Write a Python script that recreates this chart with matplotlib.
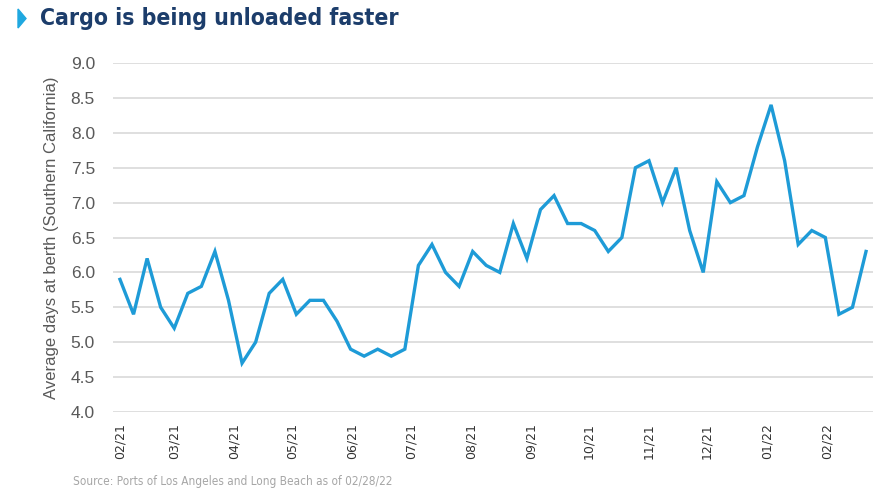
import matplotlib
matplotlib.use("Agg")
import matplotlib.pyplot as plt
import matplotlib.dates as mdates
from matplotlib.patches import Polygon
import pandas as pd

# weekly average days at berth, Southern California ports
start_date = "2021-02-01"
days_at_berth = [5.9, 5.4, 6.2, 5.5, 5.2, 5.7, 5.8, 6.3, 5.6, 4.7,
                 5.0, 5.7, 5.9, 5.4, 5.6, 5.6, 5.3, 4.9, 4.8, 4.9,
                 4.8, 4.9, 6.1, 6.4, 6.0, 5.8, 6.3, 6.1, 6.0, 6.7,
                 6.2, 6.9, 7.1, 6.7, 6.7, 6.6, 6.3, 6.5, 7.5, 7.6,
                 7.0, 7.5, 6.6, 6.0, 7.3, 7.0, 7.1, 7.8, 8.4, 7.6,
                 6.4, 6.6, 6.5, 5.4, 5.5, 6.3]
y_ticks = [4.0, 4.5, 5.0, 5.5, 6.0, 6.5, 7.0, 7.5, 8.0, 8.5, 9.0]

title = "Cargo is being unloaded faster"
y_label = "Average days at berth (Southern California)"
source = "Source: Ports of Los Angeles and Long Beach as of 02/28/22"

dates = pd.date_range(start_date, periods=len(days_at_berth), freq="7D")

W, H = 896, 501
fig = plt.figure(figsize=(W / 100, H / 100), dpi=100)
ax = fig.add_axes([113 / W, 1 - 412 / H, (873 - 113) / W, (412 - 63) / H])

ax.plot(dates, days_at_berth, color="#1e9bd7", linewidth=2.4, solid_joinstyle="miter")

ax.set_ylim(4.0, 9.0)
ax.set_yticks(y_ticks)
ax.set_yticklabels(["{:.1f}".format(v) for v in y_ticks],
                   fontsize=12.5, color="#595959", family="Liberation Sans")
ax.set_xlim(dates[0] - pd.Timedelta(days=3.6), dates[-1] + pd.Timedelta(days=3.6))
ax.xaxis.set_major_locator(mdates.MonthLocator())
ax.xaxis.set_major_formatter(mdates.DateFormatter("%m/%y"))
for lbl in ax.get_xticklabels():
    lbl.set_rotation(90)
    lbl.set_fontsize(9)
    lbl.set_color("#333333")

ax.grid(axis="y", color="#d9d9d9", linewidth=1.2)
ax.set_axisbelow(True)
for s in ax.spines.values():
    s.set_visible(False)
ax.tick_params(axis="both", length=0)
ax.tick_params(axis="y", pad=13)
ax.tick_params(axis="x", pad=8)

ax.set_ylabel(y_label, fontsize=12, color="#595959", family="Liberation Sans", labelpad=8)

# header
fig.patches.append(Polygon([[18 / W, 1 - 9 / H], [18 / W, 1 - 28 / H], [26 / W, 1 - 18.5 / H]],
                           closed=True, transform=fig.transFigure, color="#1fa8e0"))
fig.text(40 / W, 1 - 18 / H, title, fontsize=16.5, fontweight="bold", color="#1c3d6b",
         family="DejaVu Sans", fontstretch="condensed", va="center", ha="left")
fig.text(73 / W, 1 - 481 / H, source, fontsize=8.5, color="#a6a6a6",
         family="DejaVu Sans", fontstretch="condensed", va="center", ha="left")

fig.savefig("out.png", dpi=100)
